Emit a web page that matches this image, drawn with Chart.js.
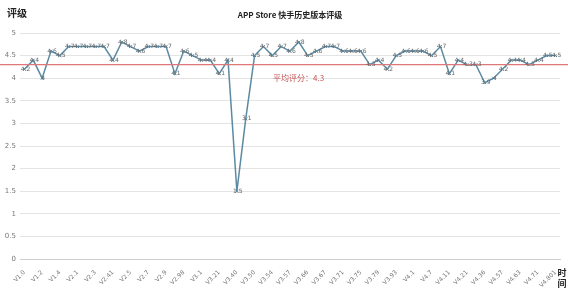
<!DOCTYPE html>
<html>
<head>
<meta charset="utf-8">
<script src="https://cdn.jsdelivr.net/npm/chart.js@4.4.0/dist/chart.umd.min.js"></script>
<style>
  body { margin: 0; background: #fff; }
  #wrap { width: 568px; height: 292px; position: relative; }
</style>
</head>
<body>
<div id="wrap"><canvas id="ratingChart" width="568" height="292"></canvas></div>
<script>
// versions (x categories)
var versions = [
  'V1.0', 'V1.1', 'V1.2', 'V1.3', 'V1.4', 'V2.0', 'V2.1', 'V2.2', 'V2.3', 'V2.4',
  'V2.41', 'V2.42', 'V2.5', 'V2.6', 'V2.7', 'V2.8', 'V2.9', 'V2.91', 'V2.98', 'V3.0',
  'V3.1', 'V3.2', 'V3.21', 'V3.30', 'V3.40', 'V3.41', 'V3.50', 'V3.52', 'V3.54', 'V3.56',
  'V3.57', 'V3.60', 'V3.66', 'V3.665', 'V3.67', 'V3.69', 'V3.71', 'V3.73', 'V3.75', 'V3.77',
  'V3.79', 'V3.81', 'V3.93', 'V4.0', 'V4.1', 'V4.5', 'V4.7', 'V4.9', 'V4.11', 'V4.20',
  'V4.21', 'V4.30', 'V4.36', 'V4.50', 'V4.57', 'V4.60', 'V4.63', 'V4.70', 'V4.71', 'V4.80',
  'V4.801'
];

// rating per version
var ratings = [
  4.2, 4.4, 4.0, 4.6, 4.5, 4.7, 4.7, 4.7, 4.7, 4.7,
  4.4, 4.8, 4.7, 4.6, 4.7, 4.7, 4.7, 4.1, 4.6, 4.5,
  4.4, 4.4, 4.1, 4.4, 1.5, 3.1, 4.5, 4.7, 4.5, 4.7,
  4.6, 4.8, 4.5, 4.6, 4.7, 4.7, 4.6, 4.6, 4.6, 4.3,
  4.4, 4.2, 4.5, 4.6, 4.6, 4.6, 4.5, 4.7, 4.1, 4.4,
  4.3, 4.3, 3.9, 4.0, 4.2, 4.4, 4.4, 4.3, 4.4, 4.5,
  4.5
];

var averageRating = 4.3;
var yTicks = [0, 0.5, 1, 1.5, 2, 2.5, 3, 3.5, 4, 4.5, 5];

var lineColor = 'rgb(92, 138, 162)';

// titles, average line and point labels
var extras = {
  id: 'extras',
  afterDatasetsDraw: function (chart) {
    var c = chart.ctx;
    var yScale = chart.scales.y;
    c.save();

    // average line across the whole picture
    var ay = yScale.getPixelForValue(averageRating);
    c.strokeStyle = 'rgb(222, 120, 120)';
    c.lineWidth = 1.2;
    c.beginPath();
    c.moveTo(0, ay);
    c.lineTo(chart.width, ay);
    c.stroke();

    c.fillStyle = 'rgb(196, 84, 84)';
    c.font = '8px "Noto Sans CJK SC", sans-serif';
    c.textAlign = 'left';
    c.textBaseline = 'middle';
    c.fillText('平均评分：' + averageRating, 273, ay + 13);

    // point labels
    var meta = chart.getDatasetMeta(0);
    c.fillStyle = '#666';
    c.font = '6px "DejaVu Sans", sans-serif';
    c.textAlign = 'center';
    c.textBaseline = 'middle';
    meta.data.forEach(function (pt, i) {
      c.fillText(String(ratings[i]), pt.x + 1, pt.y);
    });

    // title
    c.fillStyle = '#222';
    c.font = 'bold 8px "Noto Sans CJK SC", sans-serif';
    c.textAlign = 'center';
    c.fillText('APP Store 快手历史版本评级', 290, 15);

    // axis titles
    c.font = 'bold 10px "Noto Sans CJK SC", sans-serif';
    c.textAlign = 'left';
    c.fillText('评级', 7, 13);
    c.font = 'bold 9px "Noto Sans CJK SC", sans-serif';
    c.textAlign = 'center';
    c.fillText('时', 562, 273);
    c.fillText('间', 562, 284);
    c.restore();
  }
};

var ctx = document.getElementById('ratingChart').getContext('2d');

var ratingChart = new Chart(ctx, {
  type: 'line',
  data: {
    labels: versions,
    datasets: [{
      data: ratings,
      borderColor: lineColor,
      backgroundColor: lineColor,
      borderWidth: 1.5,
      pointStyle: 'crossRot',
      pointRadius: 2,
      pointBorderWidth: 1,
      tension: 0
    }]
  },
  options: {
    responsive: false,
    animation: false,
    layout: { padding: { top: 33, right: 8, left: 0, bottom: 0 } },
    plugins: {
      legend: { display: false },
      tooltip: { enabled: false }
    },
    scales: {
      x: {
        offset: true,
        grid: { display: false },
        border: { color: '#cfcfcf' },
        ticks: {
          autoSkip: false,
          maxRotation: 45,
          minRotation: 45,
          padding: 2,
          color: '#777',
          font: { size: 6, family: 'DejaVu Sans' },
          callback: function (value, index) {
            return index % 2 === 0 ? versions[index] : '';
          }
        },
        afterFit: function (scale) { scale.height = 33; }
      },
      y: {
        min: 0,
        max: 5,
        afterBuildTicks: function (scale) {
          scale.ticks = yTicks.map(function (v) { return { value: v }; });
        },
        grid: { color: '#e4e4e4', drawTicks: false },
        border: { display: false },
        ticks: {
          padding: 4,
          color: '#777',
          font: { size: 7, family: 'DejaVu Sans' },
          callback: function (value) { return String(value); }
        },
        afterFit: function (scale) { scale.width = 20; }
      }
    }
  },
  plugins: [extras]
});
</script>
</body>
</html>
